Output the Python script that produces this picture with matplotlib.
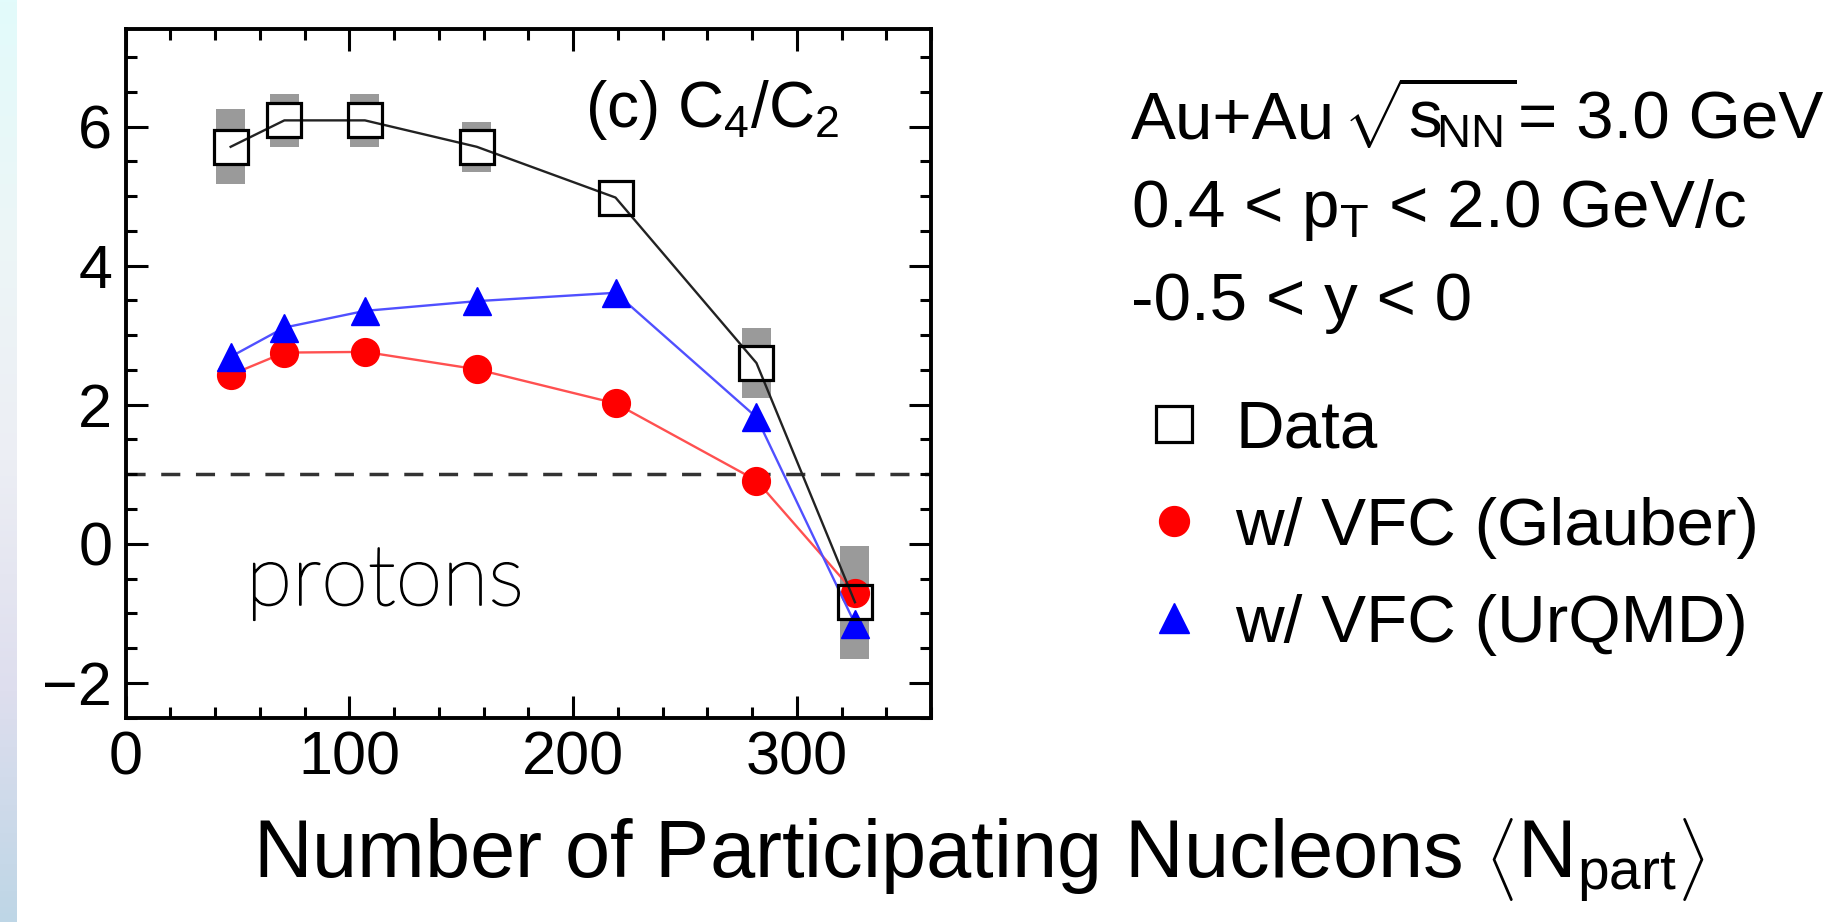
import numpy as np
import matplotlib
matplotlib.use("Agg")
import matplotlib.pyplot as plt
import matplotlib.patheffects as pe
from matplotlib.ticker import MultipleLocator
from matplotlib.lines import Line2D

plt.rcParams['font.family'] = ['Liberation Sans', 'DejaVu Sans']
plt.rcParams['mathtext.fontset'] = 'custom'
plt.rcParams['mathtext.rm'] = 'Liberation Sans'
plt.rcParams['mathtext.it'] = 'Liberation Sans:italic'
plt.rcParams['mathtext.bf'] = 'Liberation Sans:bold'

# ---------------- data ----------------
npart = [47, 71, 107, 157, 219, 282, 326]
data_c4c2 = [5.71, 6.09, 6.09, 5.71, 4.98, 2.60, -0.84]
data_sys = [0.54, 0.38, 0.38, 0.36, 0.15, 0.50, 0.81]
glauber_c4c2 = [2.43, 2.75, 2.76, 2.51, 2.02, 0.91, -0.71]
urqmd_c4c2 = [2.69, 3.11, 3.35, 3.49, 3.61, 1.82, -1.15]

x_ticks = [0, 100, 200, 300]
y_ticks = [-2, 0, 2, 4, 6]
legend_labels = ["Data", "w/ VFC (Glauber)", "w/ VFC (UrQMD)"]
info_line1_parts = ["Au+Au", r"$\sqrt{\mathrm{s}_{\!\mathrm{NN}}}$", "= 3.0 GeV"]
info_lines = [r"0.4 < $\mathrm{p}_{\mathrm{T}}$ < 2.0 GeV/c", "-0.5 < y < 0"]
panel_label = r"(c) C$_{4}$/C$_{2}$"
x_label = r"Number of Participating Nucleons $\left\langle\mathrm{N}_{\mathrm{part}}\right\rangle$"

W, H = 1834, 922
fig = plt.figure(figsize=(W / 100, H / 100), dpi=100)

# left gradient strip
sax = fig.add_axes([0, 0, 17 / W, 1])
stops = np.array([[226, 251, 251], [236, 246, 247], [236, 238, 244],
                  [222, 222, 238], [190, 214, 230]]) / 255.0
pos = np.linspace(0, 1, len(stops))
t = np.linspace(0, 1, 300)
grad = np.stack([np.interp(t, pos, stops[:, k]) for k in range(3)], axis=1)
sax.imshow(grad[:, None, :], aspect='auto', extent=[0, 1, 1, 0])
sax.set_axis_off()

ax = fig.add_axes([125.5 / W, (H - 717.6) / H, 805.5 / W, 688.3 / H])
ax.set_xlim(0, 360)
ax.set_ylim(-2.5, 7.4)

# systematic boxes
ax.bar(npart, [2 * e for e in data_sys], bottom=[d - e for d, e in zip(data_c4c2, data_sys)],
       width=13, color='#9a9a9a', zorder=1, linewidth=0)
# white interior of data squares
ax.plot(npart, data_c4c2, ls='none', marker='s', ms=24, mfc='white', mec='none', zorder=1.2)

ax.axhline(1, color='#333333', lw=2.5, ls=(0, (5.5, 4.5)), zorder=1.5)

ax.plot(npart, glauber_c4c2, color='#ff5050', lw=1.7, zorder=2)
ax.plot(npart, glauber_c4c2, ls='none', marker='o', ms=20, color='red', mec='red', zorder=2.1)
ax.plot(npart, urqmd_c4c2, color='#5050ff', lw=1.7, zorder=3)
ax.plot(npart, urqmd_c4c2, ls='none', marker='^', ms=20, color='blue', mec='blue', zorder=3.1)
ax.plot(npart, data_c4c2, color='#222222', lw=1.7, zorder=4)
ax.plot(npart, data_c4c2, ls='none', marker='s', ms=24, mfc='none', mec='black', mew=2.3, zorder=4.1)

ax.xaxis.set_major_locator(MultipleLocator(100))
ax.xaxis.set_minor_locator(MultipleLocator(20))
ax.yaxis.set_major_locator(MultipleLocator(2))
ax.yaxis.set_minor_locator(MultipleLocator(0.5))
ax.set_xticks(x_ticks)
ax.set_yticks(y_ticks)
ax.tick_params(which='both', direction='in', top=True, right=True, width=2.2,
               labelsize=44, pad=9.5, colors='black')
ax.tick_params(which='major', length=16)
ax.tick_params(which='minor', length=8)
for s in ax.spines.values():
    s.set_linewidth(2.8)

fig.text(585 / W, (H - 126.7) / H, panel_label, fontsize=46, va='baseline', ha='left')
fig.text(246 / W, (H - 605) / H, "protons", fontsize=61, family='Lato', weight='light',
         va='baseline', ha='left',
         path_effects=[pe.withStroke(linewidth=1.2, foreground='black')])

fig.text(253 / W, (H - 878) / H, x_label, fontsize=58.5, va='baseline', ha='left')

# info block
y1 = (H - 138.3) / H
fig.text(1131 / W, y1, info_line1_parts[0], fontsize=48.5, va='baseline', ha='left')
fig.text(1343 / W, y1, info_line1_parts[1], fontsize=48.5, va='baseline', ha='left')
fig.text(1518 / W, y1, info_line1_parts[2], fontsize=48.5, va='baseline', ha='left')
for txt, base in zip(info_lines, [226.7, 320]):
    fig.text(1131 / W, (H - base) / H, txt, fontsize=48.5, va='baseline', ha='left')

handles = [Line2D([], [], ls='none', marker='s', ms=26, mfc='none', mec='black', mew=2.3),
           Line2D([], [], ls='none', marker='o', ms=21.5, color='red'),
           Line2D([], [], ls='none', marker='^', ms=21.5, color='blue')]
fig.legend(handles, legend_labels, loc='upper left', bbox_to_anchor=(1140.8 / W, (H - 400) / H),
           frameon=False, fontsize=48.5, borderpad=0, borderaxespad=0, handlelength=1.0,
           handletextpad=0.40, labelspacing=0.52)

fig.savefig('out.png', dpi=100)
